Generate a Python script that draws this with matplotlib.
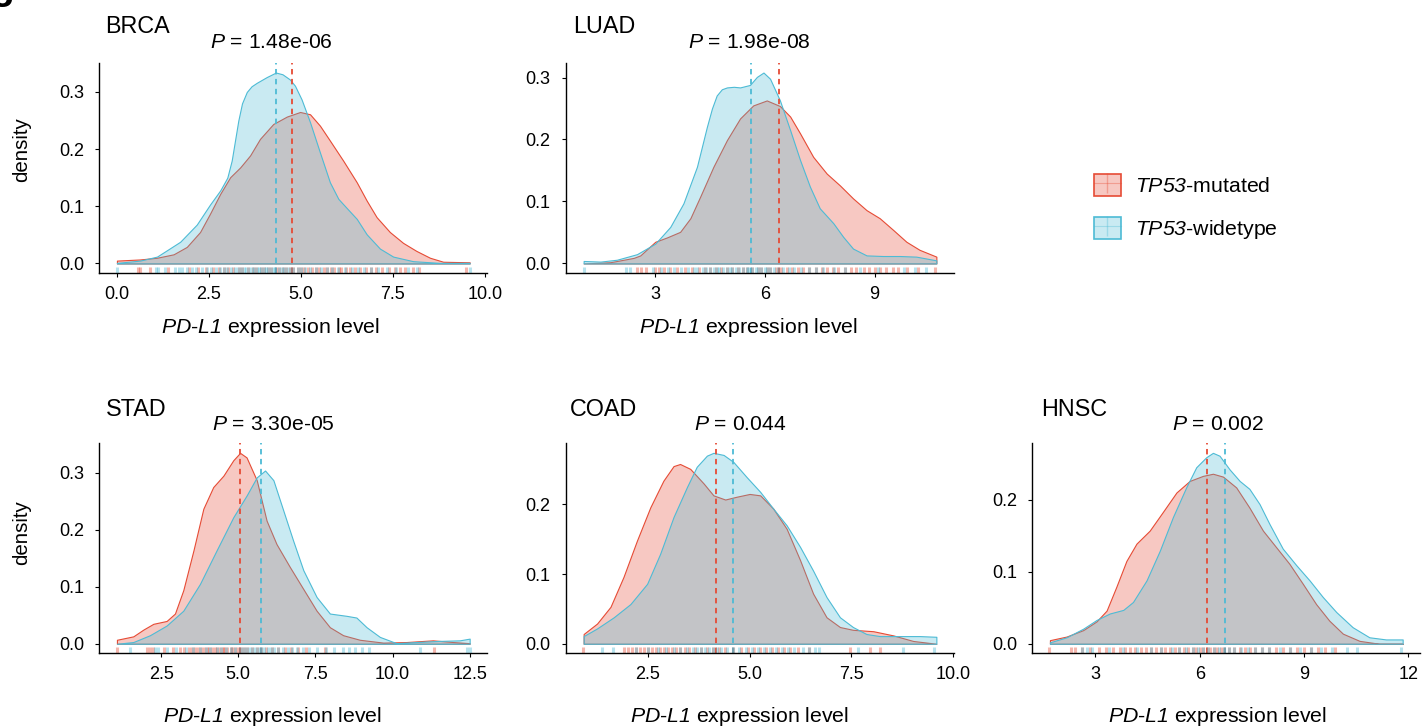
import matplotlib.pyplot as plt
from matplotlib.colors import to_rgb
from matplotlib.lines import Line2D
from matplotlib.patches import Patch

plt.rcParams['font.family'] = 'Liberation Sans'
plt.rcParams['mathtext.fontset'] = 'custom'
plt.rcParams['mathtext.rm'] = 'Liberation Sans'
plt.rcParams['mathtext.it'] = 'Liberation Sans:italic'
# italic face that also slants digits (used for gene names)
plt.rcParams['mathtext.sf'] = 'Liberation Sans:italic'

MUT = '#E64B35'
WT = '#4DBBD5'

# ---- BRCA ----
brca_mut_x = [0.00, 0.63, 1.09, 1.54, 1.90, 2.26, 2.53, 2.81, 3.08, 3.35, 3.62, 3.89, 4.25, 4.62,
              4.98, 5.25, 5.52, 5.79, 6.15, 6.52, 6.79, 7.06, 7.42, 7.78, 8.14, 8.51, 8.87, 9.59]
brca_mut_y = [0.005, 0.007, 0.010, 0.016, 0.029, 0.055, 0.087, 0.122, 0.151, 0.168, 0.189, 0.218, 0.244, 0.257,
              0.265, 0.261, 0.241, 0.215, 0.180, 0.142, 0.110, 0.081, 0.055, 0.036, 0.022, 0.010, 0.003, 0.002]
brca_wt_x = [0.00, 0.63, 1.09, 1.72, 2.17, 2.53, 2.81, 3.00, 3.12, 3.21, 3.30, 3.40, 3.53, 3.66, 3.80, 4.07,
             4.32, 4.50, 4.70, 4.84, 5.02, 5.25, 5.52, 5.79, 6.02, 6.29, 6.52, 6.79, 7.15, 7.51, 8.05,
             8.78, 9.59]
brca_wt_y = [0.001, 0.005, 0.012, 0.038, 0.068, 0.103, 0.128, 0.150, 0.180, 0.215, 0.250, 0.280, 0.300, 0.310,
             0.316, 0.326, 0.334, 0.331, 0.322, 0.311, 0.287, 0.247, 0.194, 0.142, 0.113, 0.094, 0.078, 0.051,
             0.026, 0.012, 0.004, 0.001, 0.001]
brca_mut_rug = [0.56, 0.63, 0.9, 1.4, 1.95, 2.2, 2.42, 2.6, 2.77, 2.9, 3.02, 3.15, 3.31, 3.4, 3.56, 3.7, 3.79,
                3.92, 4.01, 4.12, 4.2, 4.33, 4.41, 4.52, 4.6, 4.71, 4.8, 4.92, 5.0, 5.08, 5.2, 5.31, 5.42,
                5.5, 5.63, 5.71, 5.82, 5.9, 6.03, 6.1, 6.22, 6.35, 6.48, 6.6, 6.77, 6.9, 7.05, 7.22, 7.4,
                7.55, 7.7, 7.82, 8.05, 8.2, 9.5]
brca_wt_rug = [0.0, 1.07, 1.13, 1.31, 1.58, 1.7, 1.76, 1.9, 2.05, 2.15, 2.31, 2.44, 2.55, 2.7, 2.8, 2.91, 3.0,
               3.1, 3.2, 3.3, 3.38, 3.45, 3.52, 3.6, 3.66, 3.72, 3.8, 3.86, 3.92, 4.0, 4.06, 4.12, 4.2, 4.26,
               4.31, 4.4, 4.5, 4.55, 4.62, 4.7, 4.8, 4.91, 5.0, 5.12, 5.25, 5.4, 5.55, 5.7, 5.85, 6.02,
               6.2, 6.4, 6.55, 6.72, 6.9, 7.1, 7.35, 7.6, 7.9, 8.15, 9.6]
brca_means = [4.77, 4.32]

# ---- LUAD ----
luad_mut_x = [1.04, 1.77, 2.41, 2.59, 3.00, 3.32, 3.68, 3.96, 4.23, 4.59, 4.96, 5.32, 5.68, 6.05,
              6.41, 6.69, 6.96, 7.32, 7.69, 8.05, 8.41, 8.78, 9.14, 9.51, 9.87, 10.23, 10.69]
luad_mut_y = [0.000, 0.002, 0.009, 0.013, 0.035, 0.042, 0.051, 0.073, 0.108, 0.156, 0.199, 0.234, 0.255, 0.263,
              0.254, 0.237, 0.210, 0.172, 0.145, 0.126, 0.105, 0.086, 0.073, 0.054, 0.035, 0.022, 0.011]
luad_wt_x = [1.04, 1.50, 1.95, 2.50, 3.00, 3.41, 3.77, 4.14, 4.41, 4.55, 4.68, 4.82, 4.96, 5.15, 5.32, 5.59,
             5.78, 5.96, 6.14, 6.41, 6.69, 6.96, 7.23, 7.50, 7.87, 8.14, 8.41, 8.78, 9.23, 9.69, 10.14, 10.69]
luad_wt_y = [0.004, 0.003, 0.006, 0.015, 0.032, 0.059, 0.097, 0.156, 0.220, 0.250, 0.271, 0.281, 0.284, 0.285,
             0.284, 0.288, 0.301, 0.308, 0.298, 0.263, 0.215, 0.167, 0.124, 0.089, 0.065, 0.043, 0.024, 0.013,
             0.012, 0.012, 0.011, 0.005]
luad_mut_rug = [2.5, 2.6, 2.75, 3.0, 3.1, 3.25, 3.4, 3.6, 3.8, 4.0, 4.2, 4.35, 4.5, 4.65, 4.8, 4.95, 5.1,
                5.25, 5.4, 5.5, 5.65, 5.8, 5.9, 6.05, 6.15, 6.3, 6.45, 6.6, 6.75, 6.9, 7.05, 7.2, 7.4,
                7.55, 7.7, 7.85, 8.0, 8.2, 8.35, 8.5, 8.7, 8.85, 9.0, 9.15, 9.3, 9.5, 9.65, 9.9, 10.2, 10.65]
luad_wt_rug = [1.05, 2.2, 2.3, 2.95, 3.15, 3.35, 3.5, 3.7, 3.9, 4.05, 4.15, 4.3, 4.4, 4.5, 4.6, 4.7, 4.75,
               4.85, 4.95, 5.05, 5.1, 5.2, 5.3, 5.4, 5.5, 5.55, 5.65, 5.75, 5.8, 5.9, 6.0, 6.05, 6.15,
               6.25, 6.35, 6.5, 6.65, 6.8, 7.0, 7.2, 7.4, 7.6, 7.9, 8.2, 8.6, 9.1, 9.8, 10.1, 10.4]
luad_means = [6.39, 5.61]

# ---- STAD ----
stad_mut_x = [1.07, 1.60, 1.93, 2.25, 2.68, 2.95, 3.22, 3.55, 3.87, 4.19, 4.52, 4.84, 5.06, 5.27,
              5.60, 5.92, 6.24, 6.67, 7.11, 7.54, 7.97, 8.40, 8.94, 9.70, 10.45, 11.31, 11.96, 12.50]
stad_mut_y = [0.007, 0.013, 0.025, 0.035, 0.040, 0.053, 0.094, 0.164, 0.237, 0.275, 0.295, 0.322, 0.335, 0.327,
              0.287, 0.216, 0.175, 0.135, 0.096, 0.058, 0.029, 0.015, 0.007, 0.002, 0.003, 0.006, 0.003, 0.001]
stad_wt_x = [1.07, 1.60, 2.14, 2.68, 3.22, 3.76, 4.30, 4.84, 5.27, 5.60, 5.87, 6.14, 6.46, 6.78,
             7.11, 7.54, 7.97, 8.51, 8.83, 9.16, 9.59, 10.13, 10.77, 11.53, 12.18, 12.50]
stad_wt_y = [0.000, 0.003, 0.015, 0.032, 0.058, 0.105, 0.164, 0.222, 0.260, 0.292, 0.304, 0.287, 0.234, 0.181,
             0.129, 0.082, 0.053, 0.049, 0.046, 0.029, 0.012, 0.001, 0.003, 0.005, 0.006, 0.009]
stad_mut_rug = [1.07, 2.05, 2.15, 2.25, 2.6, 2.9, 3.1, 3.25, 3.4, 3.5, 3.6, 3.7, 3.8, 3.9, 4.0, 4.05, 4.15,
                4.25, 4.3, 4.4, 4.5, 4.55, 4.65, 4.75, 4.8, 4.9, 5.0, 5.1, 5.2, 5.3, 5.45, 5.6, 5.75,
                5.9, 6.1, 6.3, 6.5, 6.7, 6.95, 7.2, 7.8, 11.35]
stad_wt_rug = [1.5, 2.3, 2.4, 2.7, 3.0, 3.3, 3.55, 3.75, 3.95, 4.1, 4.3, 4.45, 4.6, 4.75, 4.9, 5.05, 5.15,
               5.25, 5.35, 5.45, 5.55, 5.65, 5.75, 5.85, 5.95, 6.05, 6.15, 6.3, 6.45, 6.6, 6.75, 6.9,
               7.1, 7.3, 7.55, 7.85, 8.1, 8.4, 8.6, 8.8, 9.0, 9.25, 10.9, 12.4, 12.5]
stad_means = [5.06, 5.73]

# ---- COAD ----
coad_mut_x = [0.92, 1.25, 1.58, 1.90, 2.23, 2.56, 2.88, 3.13, 3.29, 3.54, 3.87, 4.11, 4.40, 4.68,
              5.00, 5.26, 5.58, 5.91, 6.24, 6.56, 6.89, 7.22, 7.54, 8.04, 8.53, 9.02, 9.59]
coad_mut_y = [0.014, 0.029, 0.053, 0.096, 0.148, 0.196, 0.234, 0.255, 0.258, 0.251, 0.230, 0.213, 0.207, 0.211,
              0.215, 0.213, 0.194, 0.165, 0.120, 0.072, 0.038, 0.024, 0.020, 0.018, 0.012, 0.004, 0.000]
coad_wt_x = [0.92, 1.25, 1.66, 2.07, 2.48, 2.80, 3.13, 3.46, 3.70, 3.95, 4.11, 4.36, 4.60, 4.93,
             5.26, 5.58, 5.91, 6.24, 6.56, 6.89, 7.22, 7.54, 7.87, 8.20, 8.69, 9.18, 9.59]
coad_wt_y = [0.011, 0.022, 0.038, 0.057, 0.086, 0.129, 0.182, 0.225, 0.254, 0.270, 0.274, 0.271, 0.261, 0.239,
             0.218, 0.194, 0.170, 0.139, 0.105, 0.067, 0.038, 0.024, 0.014, 0.011, 0.011, 0.011, 0.010]
coad_mut_rug = [0.91, 1.9, 2.0, 2.1, 2.2, 2.3, 2.4, 2.5, 2.6, 2.7, 2.8, 2.9, 3.0, 3.1, 3.2, 3.3, 3.4, 3.5,
                3.65, 3.8, 3.95, 4.1, 4.25, 4.4, 4.6, 4.8, 4.95, 5.1, 5.25, 5.4, 5.55, 5.7, 5.85, 6.0,
                6.2, 6.45, 7.46, 7.95, 8.2]
coad_wt_rug = [1.37, 1.63, 2.2, 2.5, 2.75, 2.95, 3.15, 3.3, 3.45, 3.6, 3.7, 3.8, 3.9, 4.0, 4.1, 4.2, 4.3,
               4.45, 4.6, 4.75, 4.9, 5.05, 5.2, 5.35, 5.5, 5.65, 5.8, 5.95, 6.1, 6.3, 6.45, 6.6, 6.7,
               7.66, 8.76, 9.54]
coad_means = [4.17, 4.60]

# ---- HNSC ----
hnsc_mut_x = [1.69, 2.17, 2.65, 3.03, 3.32, 3.60, 3.89, 4.18, 4.56, 4.94, 5.33, 5.71, 6.09, 6.38,
              6.67, 7.05, 7.43, 7.82, 8.20, 8.58, 8.97, 9.35, 9.73, 10.12, 10.60, 11.17, 11.84]
hnsc_mut_y = [0.005, 0.010, 0.019, 0.031, 0.046, 0.079, 0.115, 0.139, 0.157, 0.183, 0.210, 0.226, 0.233, 0.236,
              0.232, 0.217, 0.189, 0.157, 0.134, 0.111, 0.083, 0.055, 0.032, 0.014, 0.004, 0.000, 0.000]
hnsc_wt_x = [1.69, 2.17, 2.65, 3.03, 3.41, 3.80, 4.08, 4.47, 4.85, 5.23, 5.61, 5.90, 6.19, 6.38, 6.57,
             6.86, 7.15, 7.43, 7.72, 8.01, 8.39, 8.78, 9.16, 9.54, 9.93, 10.40, 10.88, 11.36, 11.84]
hnsc_wt_y = [0.002, 0.009, 0.021, 0.033, 0.042, 0.047, 0.058, 0.088, 0.129, 0.176, 0.217, 0.245, 0.259, 0.265, 0.261,
             0.242, 0.226, 0.215, 0.194, 0.166, 0.132, 0.109, 0.088, 0.065, 0.044, 0.023, 0.009, 0.006, 0.006]
hnsc_mut_rug = [1.66, 2.3, 2.4, 2.6, 2.85, 3.1, 3.3, 3.5, 3.7, 3.85, 4.0, 4.15, 4.3, 4.45, 4.6, 4.75, 4.9,
                5.0, 5.15, 5.3, 5.4, 5.55, 5.65, 5.8, 5.9, 6.0, 6.1, 6.2, 6.3, 6.4, 6.5, 6.6, 6.7, 6.85,
                7.0, 7.15, 7.3, 7.45, 7.6, 7.8, 8.0, 8.2, 8.4, 8.6, 8.8, 9.0, 9.2, 9.4, 9.6, 9.9]
hnsc_wt_rug = [2.6, 2.75, 2.9, 3.4, 3.8, 4.2, 4.6, 4.9, 5.2, 5.4, 5.6, 5.8, 5.95, 6.1, 6.25, 6.4, 6.55,
               6.7, 6.85, 7.0, 7.2, 7.4, 7.6, 7.8, 8.0, 8.3, 8.6, 8.9, 9.2, 9.5, 9.8, 10.24, 10.53, 11.8]
hnsc_means = [6.21, 6.72]

# axis ticks and p-values
brca_ticks, brca_ticklabels = [0, 2.5, 5, 7.5, 10], ['0.0', '2.5', '5.0', '7.5', '10.0']
luad_ticks, luad_ticklabels = [3, 6, 9], ['3', '6', '9']
stad_ticks, stad_ticklabels = [2.5, 5, 7.5, 10, 12.5], ['2.5', '5.0', '7.5', '10.0', '12.5']
coad_ticks, coad_ticklabels = [2.5, 5, 7.5, 10], ['2.5', '5.0', '7.5', '10.0']
hnsc_ticks, hnsc_ticklabels = [3, 6, 9, 12], ['3', '6', '9', '12']
pvals = ['1.48e-06', '1.98e-08', '3.30e-05', '0.044', '0.002']
names = ['BRCA', 'LUAD', 'STAD', 'COAD', 'HNSC']

W, H = 1423, 727
fig = plt.figure(figsize=(W / 100, H / 100), dpi=100)


def fx(px):
    return px / W


def fy(py):
    return 1 - py / H


def fill_rgba(c, a=0.3):
    return (*to_rgb(c), a)


# panel placement in pixels: left, top, title x, text centre x, row
layout = [
    (99.3, 63, 105, 271, 0),
    (566, 63, 572.7, 749, 0),
    (99.3, 443.3, 106, 273, 1),
    (566, 443.3, 570, 740, 1),
    (1032.3, 443.3, 1041, 1218, 1),
]
PW, PH = 388, 210
title_base = [33.3, 415.7]
p_base = [47.7, 430.5]
xlab_base = [333.3, 721.7]

panels = [
    (brca_mut_x, brca_mut_y, brca_wt_x, brca_wt_y, brca_mut_rug, brca_wt_rug, brca_means, brca_ticks, brca_ticklabels),
    (luad_mut_x, luad_mut_y, luad_wt_x, luad_wt_y, luad_mut_rug, luad_wt_rug, luad_means, luad_ticks, luad_ticklabels),
    (stad_mut_x, stad_mut_y, stad_wt_x, stad_wt_y, stad_mut_rug, stad_wt_rug, stad_means, stad_ticks, stad_ticklabels),
    (coad_mut_x, coad_mut_y, coad_wt_x, coad_wt_y, coad_mut_rug, coad_wt_rug, coad_means, coad_ticks, coad_ticklabels),
    (hnsc_mut_x, hnsc_mut_y, hnsc_wt_x, hnsc_wt_y, hnsc_mut_rug, hnsc_wt_rug, hnsc_means, hnsc_ticks, hnsc_ticklabels),
]

for i, (mx, my, wx, wy, mrug, wrug, means, ticks, ticklabels) in enumerate(panels):
    left, top, tx, cx, row = layout[i]
    ax = fig.add_axes([fx(left), fy(top + PH), PW / W, PH / H])

    # densities: mutated first, wild type on top
    ax.fill_between(mx, 0, my, facecolor=fill_rgba(MUT), edgecolor=MUT, lw=0.8)
    ax.fill_between(wx, 0, wy, facecolor=fill_rgba(WT), edgecolor=WT, lw=0.8)

    ax.axvline(means[0], color=MUT, ls=(0, (3, 2.5)), lw=1.3)
    ax.axvline(means[1], color=WT, ls=(0, (3, 2.5)), lw=1.3)

    # rug along the bottom
    tr = ax.get_xaxis_transform()
    ax.vlines(mrug, 0, 0.03, transform=tr, colors=MUT, alpha=0.4, lw=2.2)
    ax.vlines(wrug, 0, 0.03, transform=tr, colors=WT, alpha=0.4, lw=2.2)

    lo, hi = min(mx[0], wx[0]), max(mx[-1], wx[-1])
    pad = (hi - lo) * 0.05
    ax.set_xlim(lo - pad, hi + pad)
    ymax = max(max(my), max(wy))
    ax.set_ylim(-0.05 * ymax, 1.05 * ymax)

    ax.set_xticks(ticks)
    ax.set_xticklabels(ticklabels)
    yt = [v / 10 for v in range(0, 4) if v / 10 <= ymax]
    ax.set_yticks(yt)
    ax.set_yticklabels(['%.1f' % v for v in yt])

    for s in ['top', 'right']:
        ax.spines[s].set_visible(False)
    for s in ['left', 'bottom']:
        ax.spines[s].set_linewidth(1.0)
    ax.tick_params(axis='both', length=3.1, width=0.8, labelsize=13, colors='black')
    ax.tick_params(axis='x', pad=6.0)
    ax.tick_params(axis='y', pad=8.0)

    fig.text(fx(tx), fy(title_base[row]), names[i], fontsize=16.8, va='baseline', ha='left')
    fig.text(fx(cx), fy(p_base[row]), r'$\mathit{P}$ = ' + pvals[i], fontsize=15.2,
             va='baseline', ha='center')
    fig.text(fx(cx), fy(xlab_base[row]), r'$\mathsf{PD}$-$\mathsf{L1}$ expression level',
             fontsize=15.3, va='baseline', ha='center')

fig.text(fx(22), fy(150), 'density', rotation=90, fontsize=14.8, ha='center', va='center')
fig.text(fx(22), fy(533), 'density', rotation=90, fontsize=14.8, ha='center', va='center')

# panel letter at the corner
fig.text(fx(-10), fy(-1), 'g', fontsize=28, fontweight='bold', va='baseline', ha='left')

handles = [
    (Patch(facecolor=fill_rgba(MUT), edgecolor=MUT, lw=1.2),
     Line2D([], [], color=MUT, lw=0.8, alpha=0.35, marker='|', markersize=14, markeredgewidth=1.0)),
    (Patch(facecolor=fill_rgba(WT), edgecolor=WT, lw=1.2),
     Line2D([], [], color=WT, lw=0.8, alpha=0.35, marker='|', markersize=14, markeredgewidth=1.0)),
]
labels = [r'$\mathsf{TP53}$-mutated', r'$\mathsf{TP53}$-widetype']
fig.legend(handles, labels, loc='upper left', bbox_to_anchor=(fx(1094), fy(174)),
           frameon=False, fontsize=15.3, handlelength=1.25, handleheight=1.25,
           handletextpad=0.7, labelspacing=0.95, borderpad=0, borderaxespad=0)

fig.savefig('out.png', dpi=100)
